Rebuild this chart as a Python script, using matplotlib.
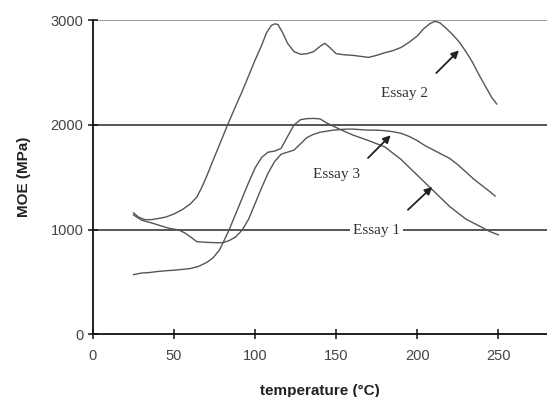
import matplotlib
matplotlib.use("Agg")
import matplotlib.pyplot as plt

# Essay 1
e1_x = [25, 30, 35, 40, 45, 50, 55, 60, 65, 70, 74, 78, 81, 84, 88, 92, 96, 100, 104, 108, 112, 116,
        120, 124, 128, 132, 136, 140, 144, 148, 152, 160, 170, 180, 190, 200, 210, 220, 230, 240, 245, 250]
e1_y = [570, 585, 590, 600, 607, 612, 620, 628, 648, 685, 730, 805, 900, 1000, 1150, 1300, 1450, 1590, 1690, 1740,
        1750, 1775, 1890, 2000, 2050, 2060, 2062, 2058, 2020, 1990, 1960, 1905, 1850, 1790, 1670, 1520, 1370,
        1220, 1100, 1020, 980, 950]

# Essay 2
e2_x = [25, 28, 32, 36, 40, 45, 50, 55, 60, 64, 67, 70, 74, 78, 83, 88, 92, 96, 100, 104, 107, 110, 112,
        114, 117, 120, 124, 128, 132, 136, 140, 143, 146, 150, 155, 160, 165, 170, 175, 180, 185, 190,
        195, 200, 204, 208, 211, 214, 218, 222, 226, 230, 234, 238, 242, 246, 249]
e2_y = [1160, 1120, 1095, 1095, 1105, 1120, 1150, 1190, 1245, 1310, 1400, 1505, 1660, 1810, 2000, 2180, 2320,
        2470, 2620, 2760, 2880, 2950, 2965, 2960, 2880, 2780, 2700, 2675, 2680, 2700, 2750, 2780, 2740, 2680,
        2670, 2665, 2655, 2645, 2665, 2690, 2710, 2740, 2790, 2850, 2920, 2970, 2990, 2975, 2920, 2860, 2790,
        2700, 2600, 2480, 2370, 2260, 2200]

# Essay 3
e3_x = [25, 30, 37, 42, 47, 53, 57, 61, 64, 70, 76, 80, 84, 88, 92, 96, 100, 104, 108, 112, 116, 120, 124,
        128, 132, 136, 140, 144, 148, 152, 156, 160, 165, 170, 175, 180, 185, 190, 195, 200, 205, 210, 215,
        220, 225, 230, 235, 240, 245, 248]
e3_y = [1140, 1090, 1060, 1035, 1012, 996, 965, 920, 885, 878, 875, 875, 895, 930, 995, 1100, 1250, 1400, 1540,
        1650, 1720, 1740, 1760, 1820, 1880, 1910, 1930, 1940, 1950, 1955, 1960, 1960, 1955, 1950, 1950, 1945,
        1935, 1920, 1890, 1850, 1800, 1760, 1720, 1680, 1620, 1550, 1480, 1420, 1360, 1320]

x_ticks = [0, 50, 100, 150, 200, 250]
y_ticks = [0, 1000, 2000, 3000]
labels = ["Essay 1", "Essay 2", "Essay 3"]
label_pos = [(175, 990), (192, 2300), (150, 1530)]
arrow_tail = [(193, 1171), (210.5, 2477), (168.4, 1665)]
arrow_tip = [(210.5, 1426), (226.9, 2731), (184.8, 1920)]

fig = plt.figure(figsize=(5.47, 3.97), dpi=100)
ax = fig.add_axes([0.170, 0.158, 0.830, 0.791])

for yv, c in zip([1000, 2000, 3000], ["#3a3a3a", "#3a3a3a", "#8a8a8a"]):
    ax.axhline(yv, color=c, lw=1.2, zorder=1)

for xs, ys in [(e1_x, e1_y), (e2_x, e2_y), (e3_x, e3_y)]:
    ax.plot(xs, ys, color="#555555", lw=1.0, zorder=2)

for lab, pos in zip(labels, label_pos):
    kw = dict(ha="center", va="center", fontsize=11, family="Liberation Serif", color="#333333", zorder=4)
    if lab == "Essay 1":
        kw["bbox"] = dict(facecolor="white", edgecolor="none", pad=2)
    ax.text(pos[0], pos[1], lab, **kw)

for t, h in zip(arrow_tail, arrow_tip):
    ax.annotate("", xy=h, xytext=t,
                arrowprops=dict(arrowstyle="-|>", color="#222222", lw=1.3, mutation_scale=11), zorder=5)

ax.set_xlim(0, 280)
ax.set_ylim(0, 3000)
ax.set_xticks(x_ticks)
ax.set_yticks(y_ticks)
ax.spines["top"].set_visible(False)
ax.spines["right"].set_visible(False)
for s in ["left", "bottom"]:
    ax.spines[s].set_linewidth(1.3)
    ax.spines[s].set_color("#111111")
ax.tick_params(direction="inout", length=7, width=1.1, color="#111111",
               labelsize=10.5, labelcolor="#444444")
ax.tick_params(axis="x", pad=7)
for lbl in ax.get_xticklabels() + ax.get_yticklabels():
    lbl.set_family("Liberation Sans")
ax.set_xlabel("temperature (°C)", fontsize=11, fontweight="bold", family="Liberation Sans",
              color="#222222", labelpad=15)
ax.set_ylabel("MOE (MPa)", fontsize=11, fontweight="bold", family="Liberation Sans",
              color="#222222", labelpad=14)

fig.savefig("out.png", dpi=100)
